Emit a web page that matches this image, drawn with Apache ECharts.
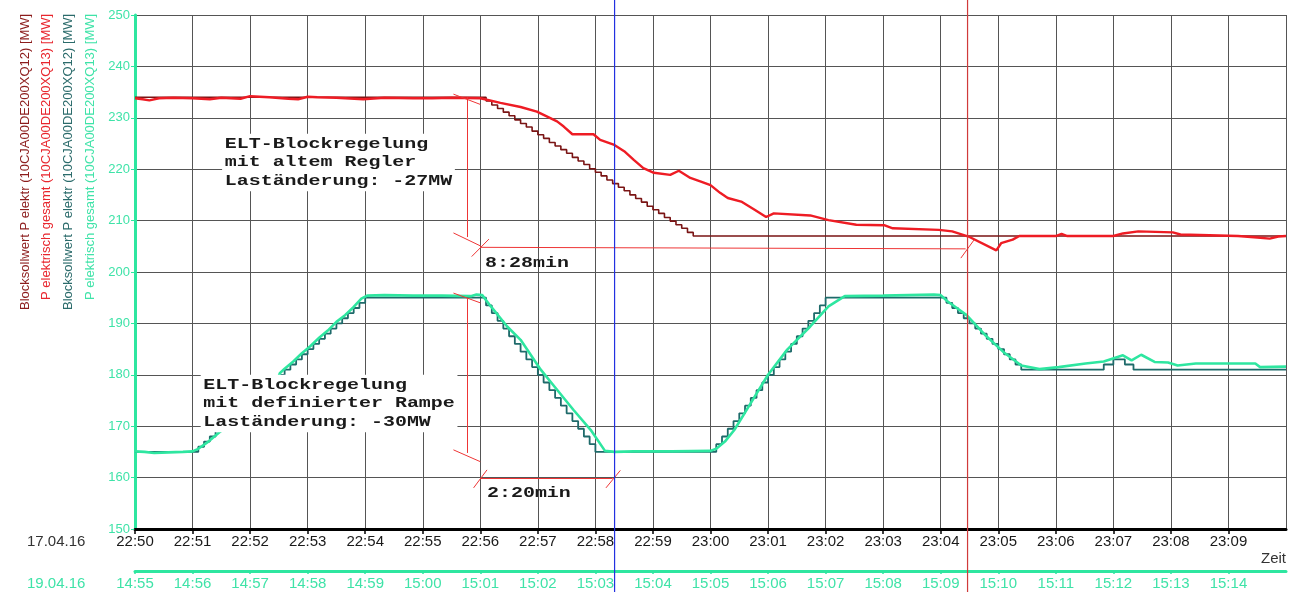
<!DOCTYPE html>
<html><head><meta charset="utf-8">
<script src="https://cdn.jsdelivr.net/npm/echarts@6/dist/echarts.min.js"></script>
<style>html,body{margin:0;padding:0;background:#fff}#c{width:1301px;height:592px}</style>
</head><body><div id="c"></div>
<script>
// time axis: seconds after 22:50:00 (17.04.16) / 14:55:00 (19.04.16)
const topTickLabels = ['22:50','22:51','22:52','22:53','22:54','22:55','22:56','22:57','22:58','22:59',
  '23:00','23:01','23:02','23:03','23:04','23:05','23:06','23:07','23:08','23:09'];
const bottomTickLabels = ['14:55','14:56','14:57','14:58','14:59','15:00','15:01','15:02','15:03','15:04',
  '15:05','15:06','15:07','15:08','15:09','15:10','15:11','15:12','15:13','15:14'];
const dateTop = '17.04.16';
const dateBottom = '19.04.16';
const timeAxisName = 'Zeit';
const yTitles = [
  'Blocksollwert P elektr (10CJA00DE200XQ12) [MW]',
  'P elektrisch gesamt (10CJA00DE200XQ13) [MW]',
  'Blocksollwert P elektr (10CJA00DE200XQ12) [MW]',
  'P elektrisch gesamt (10CJA00DE200XQ13) [MW]'
];

// 17.04.16 – Blocksollwert (stepped) [t s, MW]
const setpointOld = [[0,234],[360,234],[366,233.3],[372,232.5],[378,231.8],[384,231.1],[390,230.4],[396,229.6],
  [402,228.9],[408,228.2],[414,227.4],[420,226.7],[426,226.0],[432,225.2],[438,224.5],[444,223.8],[450,223.1],
  [456,222.3],[462,221.6],[468,220.9],[474,220.1],[480,219.4],[486,218.7],[492,217.9],[498,217.2],[504,216.5],
  [510,215.8],[516,215.0],[522,214.3],[528,213.6],[534,212.8],[540,212.1],[546,211.4],[552,210.6],[558,209.9],
  [564,209.2],[570,208.5],[576,207.7],[582,207.0],[1200,207.0]];
// 17.04.16 – P elektrisch gesamt
const actualOld = [[0,233.8],[8,233.6],[15,233.4],[25,233.8],[40,233.9],[60,233.8],[78,233.6],[90,233.9],[110,233.7],
  [120,234.2],[140,234.0],[160,233.7],[170,233.6],[180,234.1],[190,234.0],[210,233.9],[238,233.6],[260,233.9],
  [290,233.8],[310,233.8],[330,233.9],[360,233.8],[381,232.9],[402,232.1],[419,231.2],[440,229.3],[447,228.3],
  [456,226.8],[478,226.8],[485,225.7],[499,224.8],[510,223.5],[520,221.8],[530,220.2],[541,219.3],[558,218.9],
  [567,219.7],[579,218.3],[590,217.6],[600,216.9],[610,215.4],[618,214.4],[632,213.7],[646,212.1],[658,210.7],
  [666,211.4],[704,211.0],[723,210.1],[752,209.2],[781,209.1],[790,208.5],[838,208.2],[852,207.9],[869,206.9],
  [898,204.2],[903,205.6],[915,206.3],[922,207.0],[960,207.0],[966,207.4],[972,207.0],[1020,207.0],[1030,207.5],
  [1046,207.9],[1082,207.7],[1090,207.3],[1150,207.0],[1170,206.7],[1183,206.5],[1192,206.9],[1200,207.0]];
// 19.04.16 – Blocksollwert (stepped)
const setpointNew = [[0,165],[60,165],[66,166],[72,167],[78,168],[84,169],[90,170],[96,171],[102,172],[108,173],
  [114,174],[120,175],[126,176],[132,177],[138,178],[144,179],[150,180],[156,181],[162,182],[168,183],[174,184],
  [180,185],[186,186],[192,187],[198,188],[204,189],[210,190],[216,191],[222,192],[228,193],[234,194],[240,195],
  [360,195],[366,193.5],[372,192],[378,190.5],[384,189],[390,187.5],[396,186],[402,184.5],[408,183],[414,181.5],
  [420,180],[426,178.5],[432,177],[438,175.5],[444,174],[450,172.5],[456,171],[462,169.5],[468,168],[474,166.5],
  [480,165],[600,165],[606,166.5],[612,168],[618,169.5],[624,171],[630,172.5],[636,174],[642,175.5],[648,177],
  [654,178.5],[660,180],[666,181.5],[672,183],[678,184.5],[684,186],[690,187.5],[696,189],[702,190.5],[708,192],
  [714,193.5],[720,195],[840,195],[846,194],[852,193],[858,192],[864,191],[870,190],[876,189],[882,188],[888,187],
  [894,186],[900,185],[906,184],[912,183],[918,182],[924,181],[1010,182],[1020,183],[1032,182],[1041,181],[1200,181]];
// 19.04.16 – P elektrisch gesamt
const actualNew = [[0,165.1],[10,165.0],[20,164.8],[35,164.9],[50,165.0],[60,165.1],[66,165.6],[75,166.8],[84,168.2],
  [93,169.6],[102,171.2],[111,172.4],[120,173.8],[129,175.5],[138,176.8],[147,178.3],[151,180.3],[156,181.2],
  [165,182.6],[174,184.2],[183,185.6],[192,187.2],[201,188.6],[210,190.3],[219,191.6],[228,193.2],[236,194.8],
  [242,195.4],[260,195.5],[290,195.4],[320,195.4],[350,195.3],[356,195.6],[362,195.5],[371,193.3],[388,189.4],
  [402,186.8],[423,181.0],[440,177.1],[457,173.2],[475,169.3],[490,165.2],[500,165.0],[520,165.1],[560,165.1],
  [600,165.2],[606,165.6],[615,167.0],[625,169.3],[641,174.2],[660,180.0],[680,184.9],[704,189.4],[723,193.3],
  [740,195.3],[780,195.4],[833,195.6],[840,195.5],[847,194.3],[867,191.6],[886,187.8],[905,184.5],[924,181.8],
  [943,181.1],[963,181.5],[991,182.2],[1010,182.6],[1030,183.8],[1039,182.8],[1049,183.9],[1063,182.5],
  [1077,182.4],[1087,181.8],[1106,182.2],[1168,182.2],[1173,181.5],[1200,181.6]];

// hand-drawn measuring lines [[t,MW],[t,MW]]
const measureSegments = [
  [[346,234.0],[346,206.8]], [[332,234.6],[360,232.6]], [[332,207.6],[361,205.0]], [[351,203.0],[369,206.4]],
  [[360,204.8],[866,204.5]], [[861,202.7],[875,206.3]],
  [[346,194.9],[346,164.8]], [[332,195.9],[360,194.0]], [[332,165.4],[360,163.1]], [[353,158.0],[367,161.5]],
  [[360,159.8],[498,159.8]], [[491,158.0],[506,161.4]]
];
const blueMarkerTime = 500;   // 22:58:20
const redMarkerTime = 868;    // 23:04:28
const textBlockOld = ['ELT-Blockregelung','mit altem Regler','Laständerung: -27MW'];
const textBlockNew = ['ELT-Blockregelung','mit definierter Rampe','Laständerung: -30MW'];
const durationOld = '8:28min';
const durationNew = '2:20min';

const GREEN = '#2ee6a0', GREEN_TXT = '#3fe3a8', GRID = '#555';
const chart = echarts.init(document.getElementById('c'));
chart.setOption({
  animation: false,
  grid: {left: 135, right: 15, top: 15, bottom: 63},
  xAxis: [{
    type: 'value', min: 0, max: 1200, interval: 60, position: 'bottom',
    axisLine: {onZero: false, lineStyle: {color: '#000', width: 3}},
    axisTick: {show: true, length: 5, lineStyle: {color: '#000', width: 1.5}},
    axisLabel: {formatter: v => topTickLabels[v / 60] || '', fontSize: 15, color: '#1a1a1a',
      margin: 5, fontFamily: 'Liberation Sans', showMaxLabel: false},
    splitLine: {show: true, lineStyle: {color: GRID, width: 1}}
  }, {
    type: 'value', min: 0, max: 1200, interval: 60, position: 'bottom', offset: 42,
    axisLine: {onZero: false, lineStyle: {color: GREEN, width: 3}},
    axisTick: {show: true, length: 3, lineStyle: {color: GREEN, width: 1.5}},
    axisLabel: {formatter: v => bottomTickLabels[v / 60] || '', fontSize: 15, color: GREEN_TXT,
      margin: 5, fontFamily: 'Liberation Sans', showMaxLabel: false},
    splitLine: {show: false}
  }],
  yAxis: {
    type: 'value', min: 150, max: 250, interval: 10,
    axisLine: {show: true, onZero: false, lineStyle: {color: GREEN, width: 3}},
    axisTick: {show: true, length: 4, lineStyle: {color: GREEN, width: 1}},
    axisLabel: {fontSize: 13, color: GREEN_TXT, margin: 5, fontFamily: 'Liberation Sans'},
    splitLine: {show: true, lineStyle: {color: GRID, width: 1}}
  },
  series: [
    {type: 'line', data: setpointOld, step: 'end', symbol: 'none', lineStyle: {color: '#7a1414', width: 1.6}, z: 2},
    {type: 'line', data: actualOld, symbol: 'none', lineStyle: {color: '#ee1c24', width: 2.4}, z: 3},
    {type: 'line', data: setpointNew, step: 'end', symbol: 'none', lineStyle: {color: '#1e6a6a', width: 1.8}, z: 4},
    {type: 'line', data: actualNew, symbol: 'none', lineStyle: {color: GREEN, width: 2.6}, z: 5},
    {type: 'lines', coordinateSystem: 'cartesian2d', z: 6, silent: true,
      lineStyle: {color: '#ee3535', width: 1, opacity: 1},
      data: measureSegments.map(s => ({coords: s}))}
  ]
});

const P = (t, v) => chart.convertToPixel({seriesIndex: 0}, [t, v]);
const H = 592;
const g = [];
const monoFont = 'bold 15px "Liberation Mono"';
function block(lines, t, v) {
  const p = P(t, v);
  g.push({type: 'text', x: p[0], y: p[1], scaleX: 1.33, z: 100,
    style: {text: lines.join('\n'), font: monoFont, fill: '#1a1a1a', lineHeight: 18.5,
      textAlign: 'left', textVerticalAlign: 'top', backgroundColor: '#fff', padding: [1, 2]}});
}
block(textBlockOld, 90.8, 226.9);
block(textBlockNew, 68.5, 180.0);
[[durationOld, 365, 201.7], [durationNew, 367, 157.0]].forEach(([s, t, v]) => {
  const p = P(t, v);
  g.push({type: 'text', x: p[0], y: p[1], scaleX: 1.33, z: 100,
    style: {text: s, font: monoFont, fill: '#1a1a1a', textAlign: 'left', textVerticalAlign: 'middle'}});
});
[[blueMarkerTime, '#2230e0'], [redMarkerTime, '#d03a3a']].forEach(([t, c]) => {
  const x = P(t, 200)[0];
  g.push({type: 'line', z: 90, shape: {x1: x, y1: 0, x2: x, y2: H}, style: {stroke: c, lineWidth: 1.2}});
});
const titleColors = ['#8c1c1c', '#e8262e', '#2b6b6b', GREEN_TXT];
const titleX = [25, 46.7, 68.3, 90];
const titleY = [310, 300, 310, 300];
yTitles.forEach((s, i) => {
  g.push({type: 'text', x: titleX[i], y: titleY[i], rotation: Math.PI / 2, z: 100,
    style: {text: s, font: '13px "Liberation Sans"', fill: titleColors[i], textAlign: 'left', textVerticalAlign: 'middle'}});
});
const gridLeft = P(0, 150), gridRight = P(1200, 150);
g.push({type: 'text', x: 27, y: gridLeft[1] + 13, z: 100,
  style: {text: dateTop, font: '15px "Liberation Sans"', fill: '#333', textAlign: 'left', textVerticalAlign: 'middle'}});
g.push({type: 'text', x: 27, y: gridLeft[1] + 55, z: 100,
  style: {text: dateBottom, font: '15px "Liberation Sans"', fill: GREEN_TXT, textAlign: 'left', textVerticalAlign: 'middle'}});
g.push({type: 'text', x: gridRight[0], y: gridLeft[1] + 30, z: 100,
  style: {text: timeAxisName, font: '15px "Liberation Sans"', fill: '#333', textAlign: 'right', textVerticalAlign: 'middle'}});
chart.setOption({graphic: {elements: g}});
</script></body></html>
